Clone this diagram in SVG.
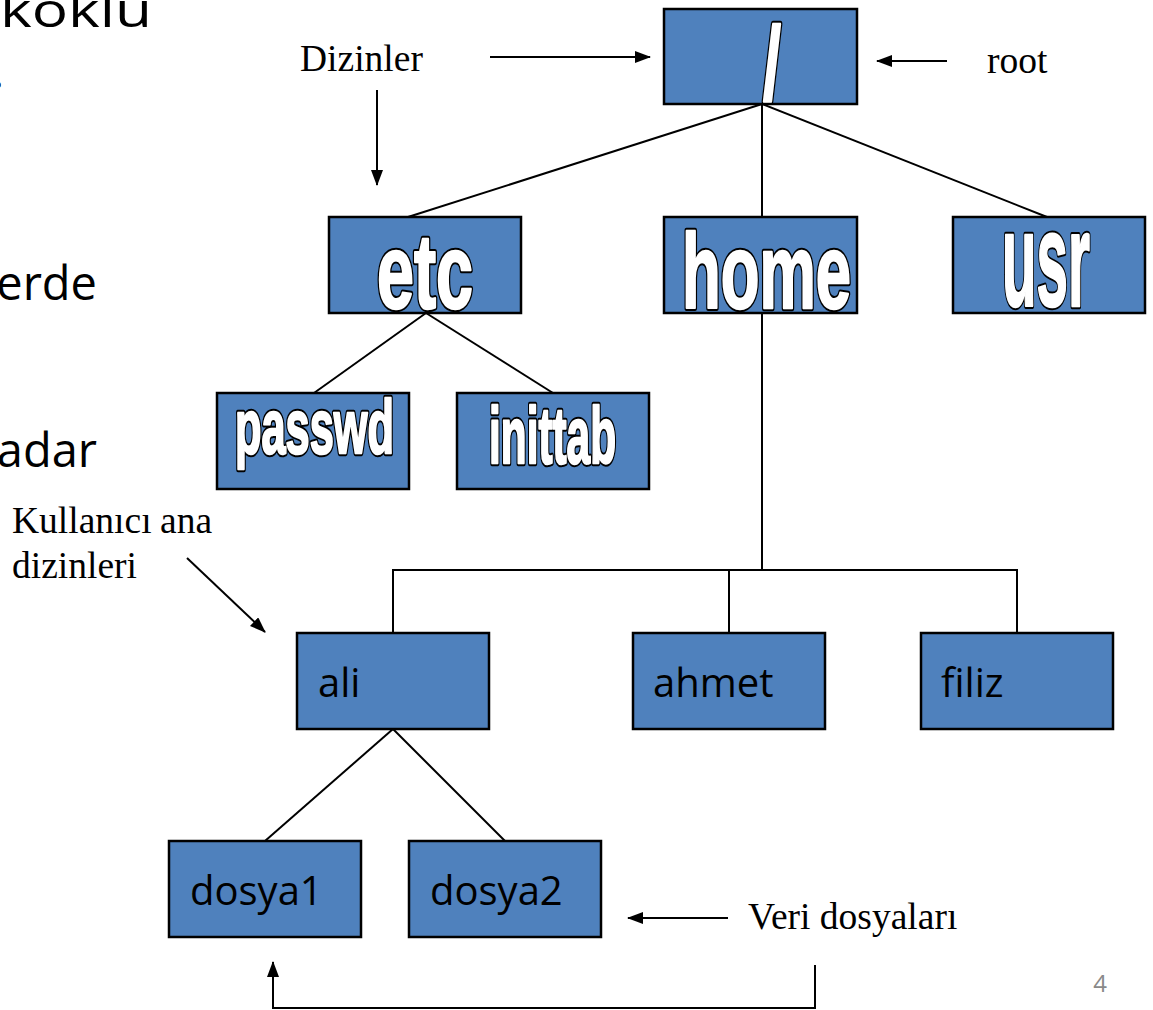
<svg xmlns="http://www.w3.org/2000/svg" width="1153" height="1010" viewBox="0 0 1153 1010">
<style>
.box{fill:#4F81BD;stroke:#000;stroke-width:2.5}
.wa{font-family:"Liberation Sans Narrow","Liberation Sans",Arial,sans-serif;font-weight:bold}
.wo{fill:#000;stroke:#000;stroke-width:6.5;stroke-linejoin:round}
.wf{fill:#fff;stroke:#fff;stroke-width:2.5;stroke-linejoin:round}
.lbl{font-family:"Open Sans","Noto Sans",sans-serif;font-size:40px;fill:#000}
.tm{font-family:"Liberation Serif","Times New Roman",serif;font-size:37.5px;fill:#000}
.big{font-family:"Open Sans","Noto Sans",sans-serif;font-size:47px;fill:#000}
.ln{fill:none;stroke:#000;stroke-width:2}
</style>
<defs>
<marker id="ah" markerUnits="userSpaceOnUse" markerWidth="16" markerHeight="12" refX="15" refY="6" orient="auto">
<path d="M0,0 L16,6 L0,12 Z" fill="#000"/>
</marker>
</defs>
<rect width="1153" height="1010" fill="#fff"/>

<g id="left-text">
<text class="big" x="0" y="27" font-size="52" textLength="152" lengthAdjust="spacingAndGlyphs">köklü</text>
<text class="big" x="4" y="88" text-anchor="end">.</text>
<text class="big" x="97" y="300" text-anchor="end">erde</text>
<text class="big" x="97" y="467" text-anchor="end">adar</text>
</g>

<g id="connectors">
<line class="ln" x1="762" y1="104" x2="408" y2="217"/>
<line class="ln" x1="762" y1="104" x2="762" y2="217"/>
<line class="ln" x1="762" y1="104" x2="1047" y2="217"/>
<line class="ln" x1="426" y1="313" x2="314" y2="393"/>
<line class="ln" x1="426" y1="313" x2="553" y2="393"/>
<line class="ln" x1="762" y1="313" x2="762" y2="570"/>
<polyline class="ln" points="393,633 393,570 1017,570 1017,633"/>
<line class="ln" x1="729" y1="570" x2="729" y2="633"/>
<line class="ln" x1="393" y1="729" x2="265" y2="841"/>
<line class="ln" x1="393" y1="729" x2="505" y2="841"/>
<line class="ln" x1="490" y1="57" x2="650" y2="57" marker-end="url(#ah)"/>
<line class="ln" x1="377" y1="90" x2="377" y2="185" marker-end="url(#ah)"/>
<line class="ln" x1="947" y1="61" x2="877" y2="61" marker-end="url(#ah)"/>
<line class="ln" x1="187" y1="558" x2="265" y2="632" marker-end="url(#ah)"/>
<line class="ln" x1="728" y1="918" x2="628" y2="918" marker-end="url(#ah)"/>
<polyline class="ln" points="815,965 815,1008 273,1008 273,962" marker-end="url(#ah)"/>
</g>

<g id="root"><rect class="box" x="664" y="9" width="193" height="95"/>
<g class="wa" font-size="104"><text class="wo" x="763" y="99" textLength="18" lengthAdjust="spacingAndGlyphs">/</text><text class="wf" x="763" y="99" textLength="18" lengthAdjust="spacingAndGlyphs">/</text></g></g>
<g id="etc"><rect class="box" x="329" y="217" width="192" height="96"/>
<g class="wa" font-size="106"><text class="wo" x="377" y="308" textLength="96" lengthAdjust="spacingAndGlyphs">etc</text><text class="wf" x="377" y="308" textLength="96" lengthAdjust="spacingAndGlyphs">etc</text></g></g>
<g id="home"><rect class="box" x="664" y="217" width="193" height="96"/>
<g class="wa" font-size="106"><text class="wo" x="682" y="308" textLength="169" lengthAdjust="spacingAndGlyphs">home</text><text class="wf" x="682" y="308" textLength="169" lengthAdjust="spacingAndGlyphs">home</text></g></g>
<g id="usr"><rect class="box" x="953" y="217" width="192" height="96"/>
<g class="wa" font-size="133"><text class="wo" x="1002" y="306" textLength="88" lengthAdjust="spacingAndGlyphs">usr</text><text class="wf" x="1002" y="306" textLength="88" lengthAdjust="spacingAndGlyphs">usr</text></g></g>
<g id="passwd"><rect class="box" x="217" y="393" width="192" height="96"/>
<g class="wa" font-size="76"><text class="wo" x="235" y="453" textLength="159" lengthAdjust="spacingAndGlyphs">passwd</text><text class="wf" x="235" y="453" textLength="159" lengthAdjust="spacingAndGlyphs">passwd</text></g></g>
<g id="inittab"><rect class="box" x="457" y="393" width="192" height="96"/>
<g class="wa" font-size="80"><text class="wo" x="489" y="463" textLength="127" lengthAdjust="spacingAndGlyphs">inittab</text><text class="wf" x="489" y="463" textLength="127" lengthAdjust="spacingAndGlyphs">inittab</text></g></g>

<g id="ali"><rect class="box" x="297" y="633" width="192" height="96"/><text class="lbl" x="318" y="697">ali</text></g>
<g id="ahmet"><rect class="box" x="633" y="633" width="192" height="96"/><text class="lbl" x="653" y="697">ahmet</text></g>
<g id="filiz"><rect class="box" x="921" y="633" width="192" height="96"/><text class="lbl" x="941" y="697">filiz</text></g>
<g id="dosya1"><rect class="box" x="169" y="841" width="192" height="96"/><text class="lbl" x="190" y="905">dosya1</text></g>
<g id="dosya2"><rect class="box" x="409" y="841" width="192" height="96"/><text class="lbl" x="430" y="905">dosya2</text></g>

<g id="labels">
<text class="tm" x="300" y="71">Dizinler</text>
<text class="tm" x="987" y="73">root</text>
<text class="tm" x="12" y="533">Kullanıcı<tspan x="160">ana</tspan></text>
<text class="tm" x="12" y="578">dizinleri</text>
<text class="tm" x="748" y="929">Veri dosyaları</text>
<text x="1107" y="992" text-anchor="end" font-family="'Open Sans','Noto Sans',sans-serif" font-size="24" fill="#898989">4</text>
</g>
</svg>
